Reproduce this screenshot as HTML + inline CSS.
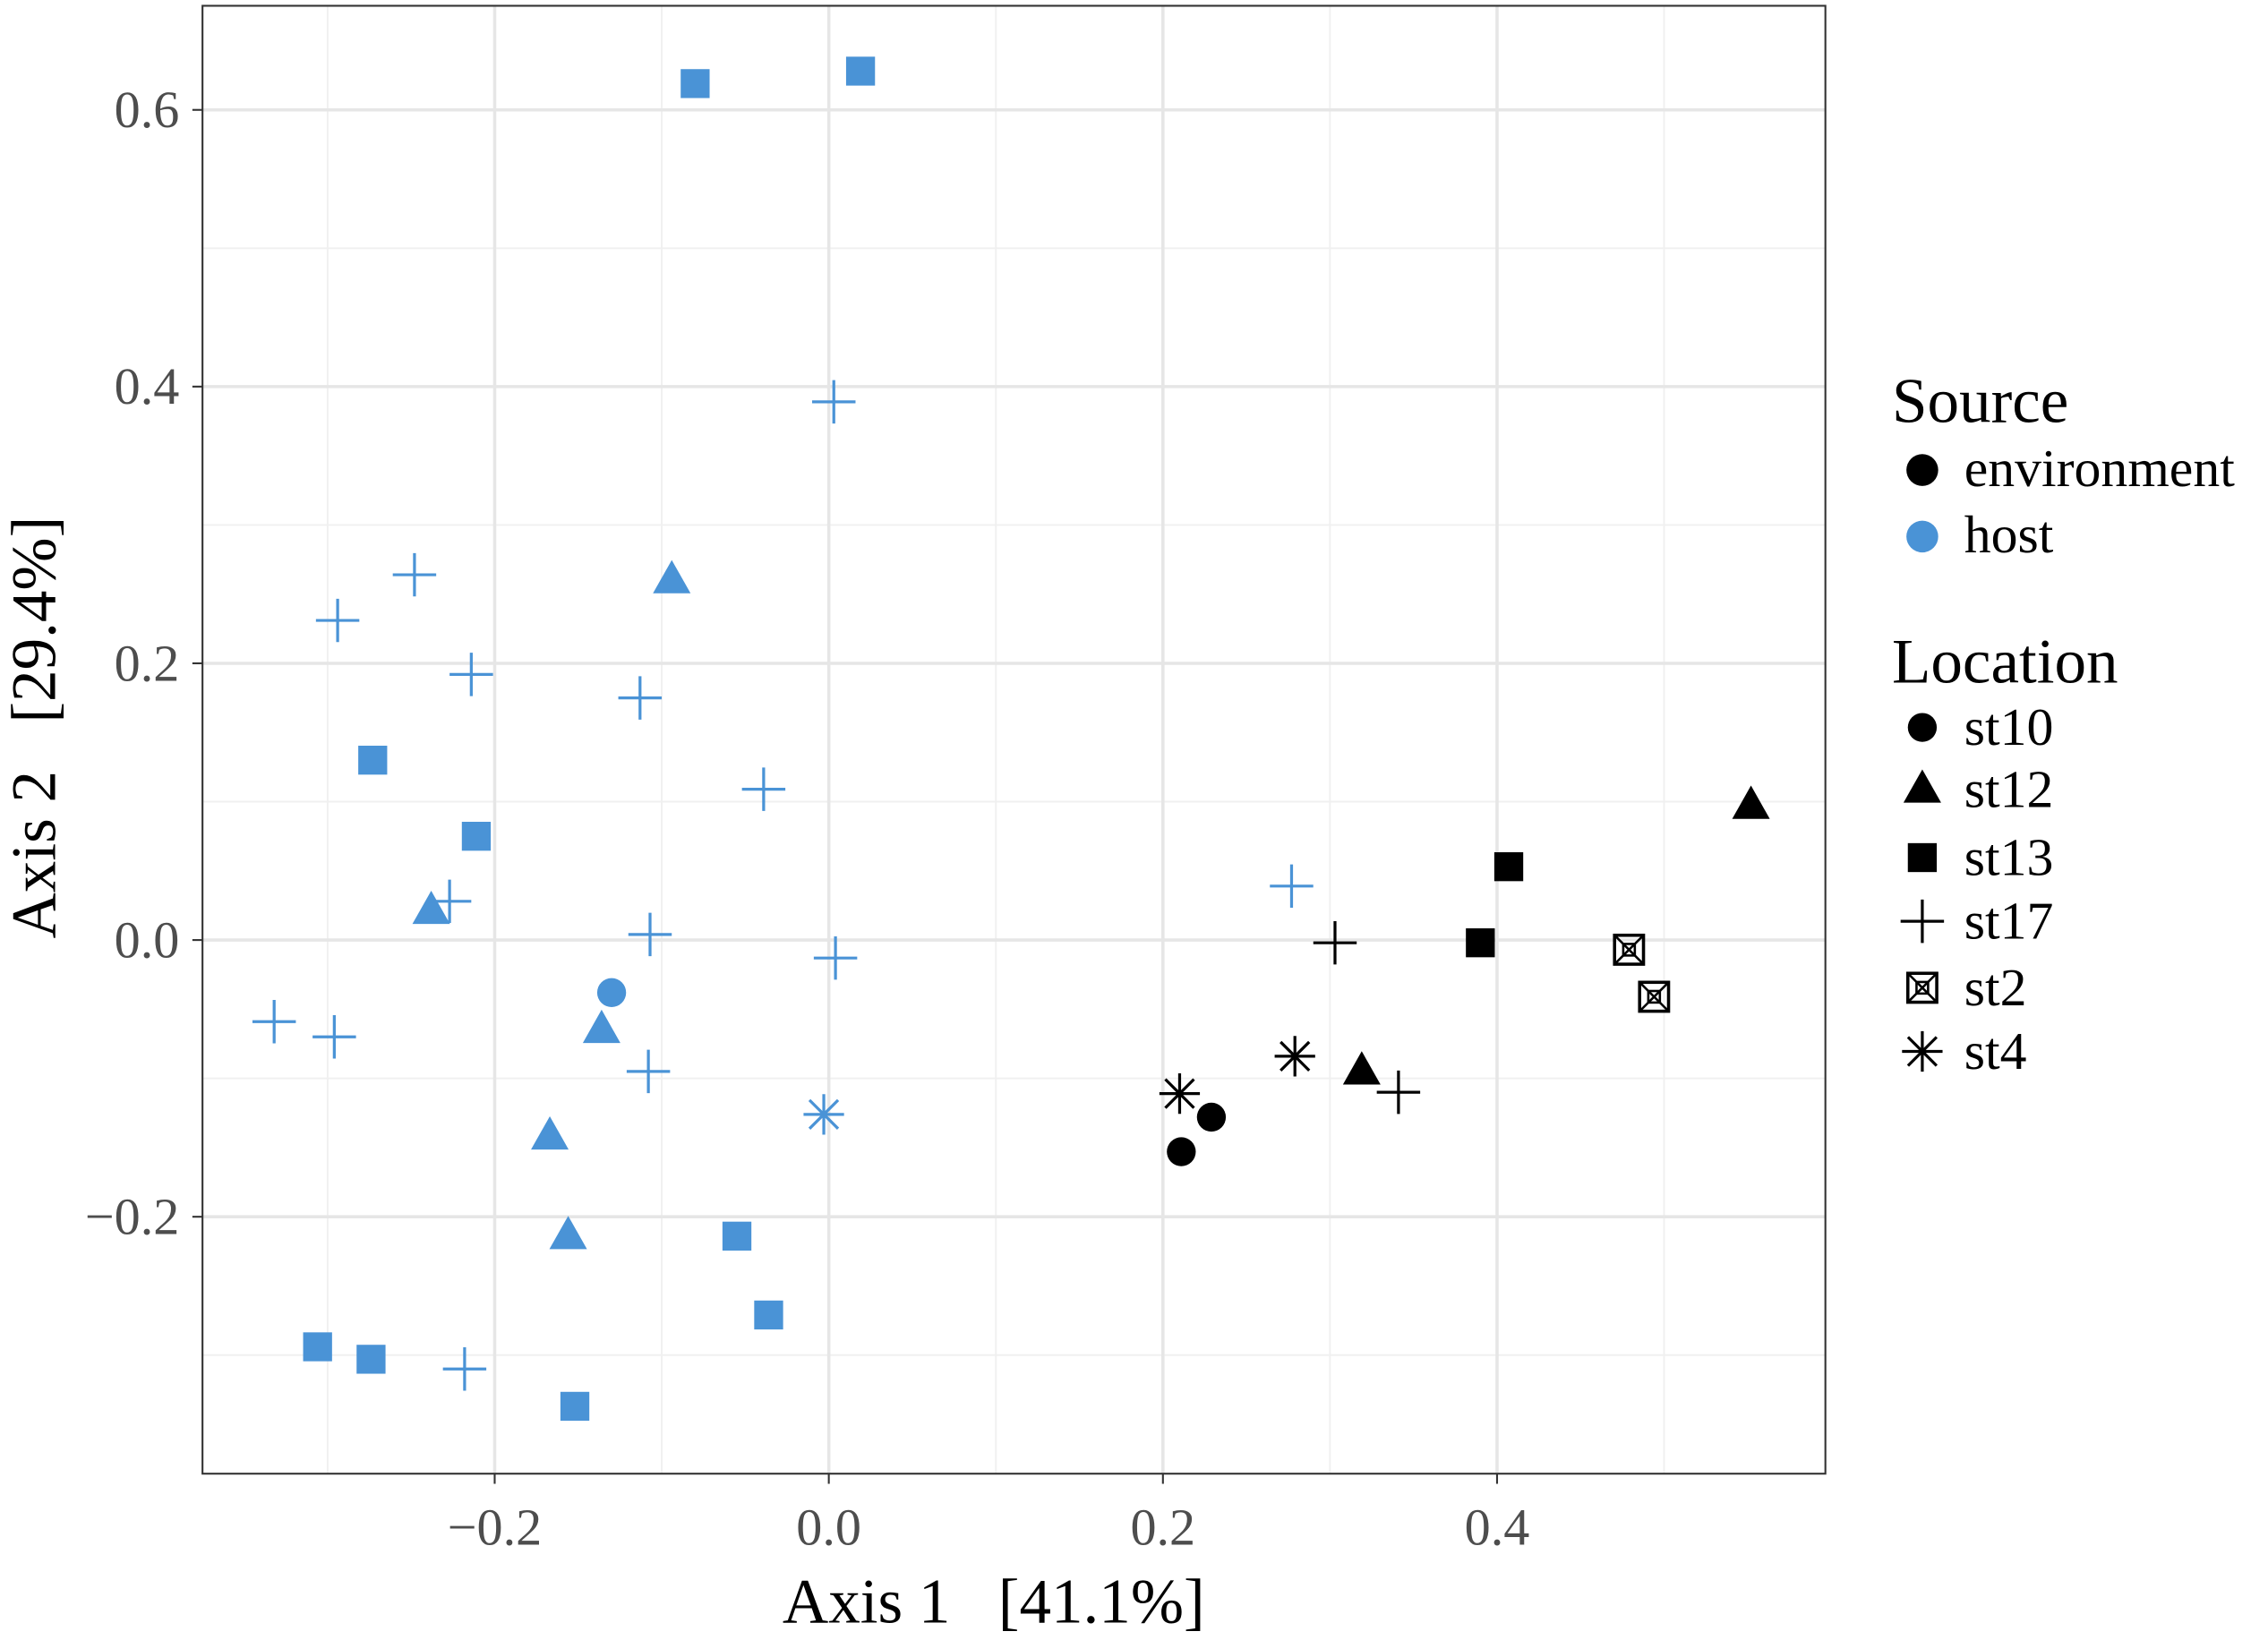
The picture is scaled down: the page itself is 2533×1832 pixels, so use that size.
<!DOCTYPE html>
<html><head><meta charset="utf-8"><style>html,body{margin:0;padding:0;background:#fff}svg{display:block}text{white-space:pre}</style></head>
<body>
<svg id="chart" width="2533" height="1832" viewBox="0 0 1568 1134" preserveAspectRatio="none" xmlns="http://www.w3.org/2000/svg" font-family="'Liberation Serif', serif">
<g id="grid"></g>
<g id="points"></g>
<rect x="140" y="4" width="1122" height="1015" fill="none" stroke="#333" stroke-width="1.3"/>
<g id="axes"></g>
<text x="687" y="1122" font-size="44" text-anchor="middle">Axis 1   [41.1%]</text>
<text transform="translate(38,503) rotate(-90)" font-size="44" text-anchor="middle">Axis 2   [29.4%]</text>
<g id="legend"></g>
</svg>
<script>
const xTicks=[-0.2,0.0,0.2,0.4];
const xTickLabels=["\u22120.2","0.0","0.2","0.4"];
const yTicks=[-0.2,0.0,0.2,0.4,0.6];
const yTickLabels=["\u22120.2","0.0","0.2","0.4","0.6"];
const xMinor=[-0.3,-0.1,0.1,0.3,0.5];
const yMinor=[-0.3,-0.1,0.1,0.3,0.5];
const ptX=[-0.080,0.019,-0.273,-0.211,-0.055,-0.036,-0.306,-0.274,-0.152,
 -0.094,-0.238,-0.136,-0.167,-0.156,-0.130,-0.003,
 0.003,-0.248,-0.294,-0.214,-0.113,-0.039,-0.227,-0.107,0.004,-0.332,-0.296,-0.108,-0.218,0.277,
 0.229,0.211,0.210,0.279,0.319,0.552,0.407,0.390,0.303,0.341,0.479,0.494];
const ptY=[0.619,0.628,0.130,0.075,-0.214,-0.271,-0.294,-0.303,-0.337,
 0.260,0.021,-0.065,-0.142,-0.214,-0.038,-0.126,
 0.389,0.264,0.231,0.192,0.175,0.109,0.028,0.004,-0.013,-0.059,-0.070,-0.095,-0.310,0.039,
 -0.128,-0.153,-0.111,-0.084,-0.095,0.097,0.053,-0.002,-0.002,-0.110,-0.007,-0.041];
const ptLoc=["st13","st13","st13","st13","st13","st13","st13","st13","st13",
 "st12","st12","st12","st12","st12","st10","st4",
 "st17","st17","st17","st17","st17","st17","st17","st17","st17","st17","st17","st17","st17","st17",
 "st10","st10","st4","st4","st12","st12","st13","st13","st17","st17","st2","st2"];
const ptSrc=Array(30).fill("host").concat(Array(12).fill("environment"));
const colors={host:"#4a93d6",environment:"#000"};
const NS="http://www.w3.org/2000/svg";
const sx=v=>573+v*1155, sy=v=>650-v*956.7;
function mk(tag,attrs,parent){const e=document.createElementNS(NS,tag);for(const k in attrs)e.setAttribute(k,attrs[k]);parent.appendChild(e);return e;}
const grid=document.getElementById('grid');
mk('rect',{x:140,y:4,width:1122,height:1015,fill:'#fff'},grid);
xMinor.forEach(v=>{const l=mk('line',{x1:sx(v),x2:sx(v),y1:4,y2:1019,stroke:'#f0f0f0','stroke-width':1.2},grid);});
yMinor.forEach(v=>{const l=mk('line',{y1:sy(v),y2:sy(v),x1:140,x2:1262,stroke:'#f0f0f0','stroke-width':1.2},grid);});
xTicks.forEach(v=>{const l=mk('line',{x1:sx(v),x2:sx(v),y1:4,y2:1019,stroke:'#e6e6e6','stroke-width':2.2},grid);});
yTicks.forEach(v=>{const l=mk('line',{y1:sy(v),y2:sy(v),x1:140,x2:1262,stroke:'#e6e6e6','stroke-width':2.2},grid);});
const axes=document.getElementById('axes');
xTicks.forEach((v,i)=>{mk('line',{x1:sx(v),x2:sx(v),y1:1019,y2:1026,stroke:'#333','stroke-width':1.3},axes);
 const t=mk('text',{x:sx(v),y:1068,'font-size':36,fill:'#4d4d4d','text-anchor':'middle'},axes);t.textContent=xTickLabels[i];
 });
yTicks.forEach((v,i)=>{mk('line',{x1:133,x2:140,y1:sy(v),y2:sy(v),stroke:'#333','stroke-width':1.3},axes);
 const t=mk('text',{x:124,y:sy(v)+12,'font-size':36,fill:'#4d4d4d','text-anchor':'end'},axes);t.textContent=yTickLabels[i];
 });
function shape(loc,x,y,c,parent){
 const g=mk('g',{},parent);
 if(loc==='st13')mk('rect',{x:x-10,y:y-10,width:20,height:20,fill:c},g);
 else if(loc==='st12')mk('polygon',{points:`${x},${y-14} ${x-13},${y+9} ${x+13},${y+9}`,fill:c},g);
 else if(loc==='st10')mk('circle',{cx:x,cy:y,r:10,fill:c},g);
 else if(loc==='st17'){mk('path',{d:`M${x-15},${y}H${x+15}M${x},${y-15}V${y+15}`,stroke:c,'stroke-width':2,fill:'none'},g);}
 else if(loc==='st4'){const r=14,d=r*0.707;mk('path',{d:`M${x},${y-r}V${y+r}M${x-d},${y-d}L${x+d},${y+d}M${x-d},${y+d}L${x+d},${y-d}M${x-r},${y}H${x+r}`,stroke:c,'stroke-width':2,fill:'none'},g);}
 else if(loc==='st2'){mk('rect',{x:x-10,y:y-10,width:20,height:20,fill:'none',stroke:c,'stroke-width':2.2},g);
  mk('path',{d:`M${x-10},${y-10}L${x+10},${y+10}M${x-10},${y+10}L${x+10},${y-10}`,stroke:c,'stroke-width':1.6},g);
  mk('rect',{x:x-4,y:y-4,width:8,height:8,fill:'none',stroke:c,'stroke-width':1.6},g);}
 return g;
}
const pts=document.getElementById('points');
ptX.forEach((v,i)=>{const g=shape(ptLoc[i],sx(v),sy(ptY[i]),colors[ptSrc[i]],pts);
 
 });
const lg=document.getElementById('legend');
function txt(s,x,y,size,name){const t=mk('text',{x:x,y:y,'font-size':size},lg);t.textContent=s;}
txt('Source',1308,292,44,'legend-title-source');
[['environment','#000',325],['host','#4a93d6',371]].forEach(([s,c,y])=>{mk('circle',{cx:1329,cy:y,r:11,fill:c},lg);txt(s,1358,y+11,37,'legend-entry-'+s);});
txt('Location',1308,472,44,'legend-title-location');
[['st10',503],['st12',546],['st13',593],['st17',637],['st2',683],['st4',727]].forEach(([s,y])=>{
 const g=shape(s,1329,y,'#000',lg);
 txt(s,1358,y+12,37,'legend-entry-'+s);});
</script>
</body></html>
